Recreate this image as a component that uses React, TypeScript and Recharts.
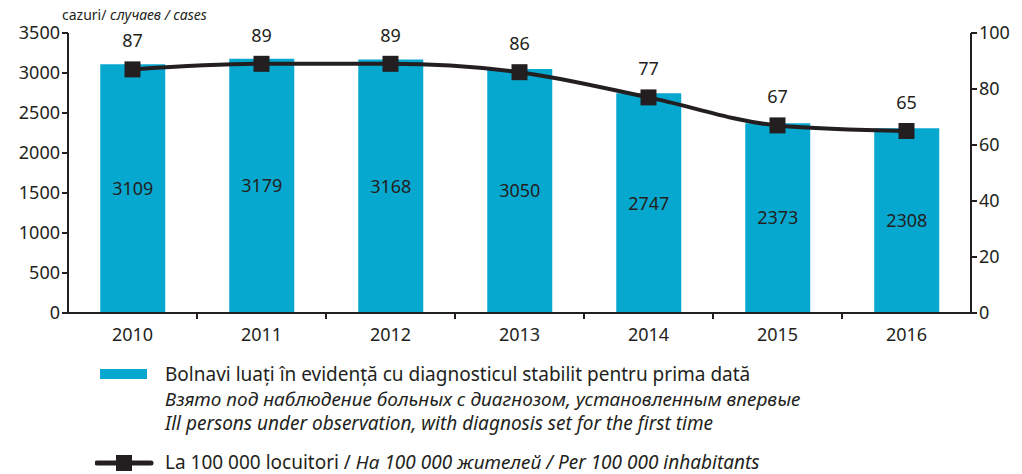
import React from 'react';
import { ComposedChart, Bar, Line, XAxis, YAxis, LabelList } from 'recharts';

const years = ['2010', '2011', '2012', '2013', '2014', '2015', '2016'];
const cases = [3109, 3179, 3168, 3050, 2747, 2373, 2308];
const per100k = [87, 89, 89, 86, 77, 67, 65];
const leftTicks = [0, 500, 1000, 1500, 2000, 2500, 3000, 3500];
const rightTicks = [0, 20, 40, 60, 80, 100];

const data = years.map((y, i) => ({ year: y, cases: cases[i], rate: per100k[i] }));

const FONT = '"Noto Sans", sans-serif';
const INK = '#231f20';
const BLUE = '#07a8cf';

const SquareDot = (props: any) => {
  const { cx, cy } = props;
  if (cx == null || cy == null) return null;
  return <rect x={cx - 8} y={cy - 8} width={16} height={16} fill={INK} />;
};

const XTick = (props: any) => {
  const { x, y, payload, index, width } = props;
  const band = (width || 903) / years.length;
  return (
    <g>
      <text x={x} y={y + 20} textAnchor="middle" fontFamily={FONT} fontSize={18} fill={INK}>
        {payload.value}
      </text>
      {index < years.length - 1 && (
        <line x1={x + band / 2} x2={x + band / 2} y1={y - 8} y2={y - 2} stroke={INK} strokeWidth={2} />
      )}
    </g>
  );
};

export default function App() {
  return (
    <div style={{ position: 'absolute', left: 0, top: 0, width: 1022, height: 474, background: '#fff', fontFamily: FONT }}>
      <ComposedChart
        width={1022}
        height={474}
        data={data}
        margin={{ top: 33, right: 0, bottom: 131, left: 0 }}
        barCategoryGap="25%"
      >
        <XAxis
          dataKey="year"
          xAxisId="x"
          height={30}
          axisLine={{ stroke: INK, strokeWidth: 2 }}
          tickLine={false}
          tick={<XTick />}
          interval={0}
        />
        <YAxis
          yAxisId="left"
          orientation="left"
          width={68}
          domain={[0, 3500]}
          ticks={leftTicks}
          interval={0}
          axisLine={{ stroke: INK, strokeWidth: 2 }}
          tickLine={{ stroke: INK, strokeWidth: 2 }}
          tickSize={6}
          tick={{ fontFamily: FONT, fontSize: 18, fill: INK }}
        />
        <YAxis
          yAxisId="right"
          orientation="right"
          width={51}
          domain={[0, 100]}
          ticks={rightTicks}
          interval={0}
          axisLine={{ stroke: INK, strokeWidth: 2 }}
          tickLine={{ stroke: INK, strokeWidth: 2 }}
          tickSize={6}
          tick={{ fontFamily: FONT, fontSize: 18, fill: INK, textAnchor: 'start' }}
        />
        <Bar dataKey="cases" xAxisId="x" yAxisId="left" fill={BLUE} isAnimationActive={false}>
          <LabelList dataKey="cases" position="center" fontFamily={FONT} fontSize={18} fill={INK} />
        </Bar>
        <Line
          dataKey="rate"
          xAxisId="x"
          yAxisId="right"
          type="monotone"
          stroke={INK}
          strokeWidth={4}
          dot={<SquareDot />}
          activeDot={false}
          isAnimationActive={false}
        >
          <LabelList dataKey="rate" position="top" offset={22} fontFamily={FONT} fontSize={18} fill={INK} />
        </Line>
      </ComposedChart>

      <div style={{ position: 'absolute', left: 62, top: 5, fontSize: 14, color: INK, whiteSpace: 'nowrap' }}>
        cazuri/ <i>случаев / cases</i>
      </div>

      <div style={{ position: 'absolute', left: 100, top: 369, width: 47, height: 10, background: BLUE }} />
      <div style={{ position: 'absolute', left: 165, top: 362, fontSize: 19, lineHeight: '24.5px', color: INK, whiteSpace: 'nowrap' }}>
        <div>Bolnavi luați în evidență cu diagnosticul stabilit pentru prima dată</div>
        <div><i>Взято под наблюдение больных с диагнозом, установленным впервые</i></div>
        <div><i>Ill persons under observation, with diagnosis set for the first time</i></div>
      </div>

      <svg style={{ position: 'absolute', left: 95, top: 453 }} width={60} height={20}>
        <line x1={2} x2={56} y1={10} y2={10} stroke={INK} strokeWidth={5} strokeLinecap="round" />
        <rect x={21} y={2} width={16} height={16} fill={INK} />
      </svg>
      <div style={{ position: 'absolute', left: 165, top: 450, fontSize: 19, lineHeight: '24px', color: INK, whiteSpace: 'nowrap' }}>
        La 100 000 locuitori / <i>На 100 000 жителей / Per 100 000 inhabitants</i>
      </div>
    </div>
  );
}
